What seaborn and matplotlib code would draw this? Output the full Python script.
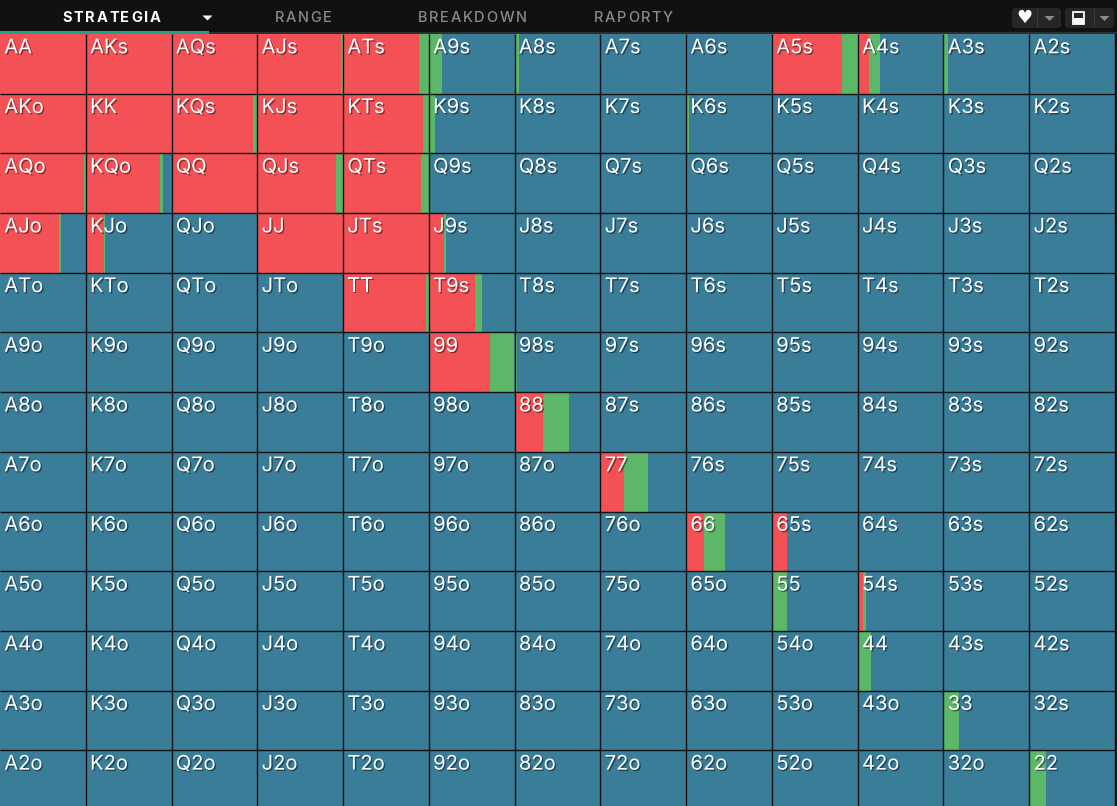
import matplotlib
matplotlib.use('Agg')
import matplotlib.pyplot as plt
import matplotlib.patheffects as pe
from matplotlib.colors import ListedColormap
from matplotlib.patches import Rectangle, FancyBboxPatch, Polygon
import numpy as np
import seaborn as sns

# rangi i czestotliwosci akcji (wiersze: pierwsza karta, kolumny: druga karta)
ranks = ['A', 'K', 'Q', 'J', 'T', '9', '8', '7', '6', '5', '4', '3', '2']
tabs = ['STRATEGIA', 'RANGE', 'BREAKDOWN', 'RAPORTY']

raise_freq = [
    [1.00, 1.00, 1.00, 0.975, 0.89, 0, 0, 0, 0, 0.82, 0.13, 0, 0],
    [1.00, 1.00, 0.955, 1.00, 0.93, 0, 0, 0, 0, 0, 0, 0, 0],
    [0.985, 0.87, 1.00, 0.92, 0.91, 0, 0, 0, 0, 0, 0, 0, 0],
    [0.69, 0.21, 0, 1.00, 1.00, 0.175, 0, 0, 0, 0, 0, 0, 0],
    [0, 0, 0, 0, 0.97, 0.54, 0, 0, 0, 0, 0, 0, 0],
    [0, 0, 0, 0, 0, 0.71, 0, 0, 0, 0, 0, 0, 0],
    [0, 0, 0, 0, 0, 0, 0.33, 0, 0, 0, 0, 0, 0],
    [0, 0, 0, 0, 0, 0, 0, 0.28, 0, 0, 0, 0, 0],
    [0, 0, 0, 0, 0, 0, 0, 0, 0.21, 0.175, 0, 0, 0],
    [0, 0, 0, 0, 0, 0, 0, 0, 0, 0, 0.067, 0, 0],
    [0, 0, 0, 0, 0, 0, 0, 0, 0, 0, 0, 0, 0],
    [0, 0, 0, 0, 0, 0, 0, 0, 0, 0, 0, 0, 0],
    [0, 0, 0, 0, 0, 0, 0, 0, 0, 0, 0, 0, 0],
]

call_freq = [
    [0, 0, 0, 0.025, 0.11, 0.15, 0.05, 0.01, 0, 0.18, 0.13, 0.05, 0],
    [0, 0, 0.04, 0, 0.07, 0.07, 0, 0, 0.03, 0, 0, 0, 0],
    [0.015, 0.03, 0, 0.08, 0.09, 0, 0, 0, 0, 0, 0, 0, 0],
    [0.025, 0.015, 0, 0, 0, 0.027, 0, 0, 0, 0, 0, 0, 0],
    [0, 0, 0, 0, 0.03, 0.078, 0, 0, 0, 0, 0, 0, 0],
    [0, 0, 0, 0, 0, 0.285, 0.027, 0, 0, 0, 0, 0, 0],
    [0, 0, 0, 0, 0, 0, 0.30, 0, 0, 0, 0, 0, 0],
    [0, 0, 0, 0, 0, 0, 0, 0.28, 0, 0, 0, 0, 0],
    [0, 0, 0, 0, 0, 0, 0, 0, 0.24, 0, 0, 0, 0],
    [0, 0, 0, 0, 0, 0, 0, 0, 0, 0.175, 0.03, 0, 0],
    [0, 0, 0, 0, 0, 0, 0, 0, 0, 0, 0.16, 0, 0],
    [0, 0, 0, 0, 0, 0, 0, 0, 0, 0, 0, 0.18, 0],
    [0, 0, 0, 0, 0, 0, 0, 0, 0, 0, 0, 0, 0.19],
]

# kolory
bg = '#111111'
fold_col = '#3a7d98'
raise_col = '#f45156'
call_col = '#5cb868'
line_col = '#111111'

sns.set_style('white')
plt.rcParams['font.family'] = ['Inter', 'DejaVu Sans']

W, H = 1117, 806
fig = plt.figure(figsize=(W / 100, H / 100), dpi=100, facecolor=bg)
ax = fig.add_axes([0, 1 - 810 / H, 1115 / W, 776 / H])

n = len(ranks)
# tlo - fold
sns.heatmap(np.zeros((n, n)), cmap=ListedColormap([fold_col]), cbar=False,
            xticklabels=False, yticklabels=False, ax=ax)

# raise i call jako poziome slupki w kazdej komorce
cols = np.arange(n)
for i in range(n):
    r = np.array(raise_freq[i])
    c = np.array(call_freq[i])
    ax.barh(i + 0.5, r, left=cols, height=1, color=raise_col, linewidth=0)
    ax.barh(i + 0.5, c, left=cols + r, height=1, color=call_col, linewidth=0)

ax.vlines(np.arange(1, n + 1), 0, n, color=line_col, lw=1.0, zorder=5)
ax.hlines(np.arange(1, n + 1), 0, n, color=line_col, lw=1.0, zorder=5)
ax.set_xlim(0, n)
ax.set_ylim(n, 0)
ax.axis('off')

shadow = [pe.withSimplePatchShadow(offset=(1, -1), shadow_rgbFace='black', alpha=0.45)]
for i in range(n):
    for j in range(n):
        if i == j:
            label = ranks[i] * 2
        elif i < j:
            label = ranks[i] + ranks[j] + 's'
        else:
            label = ranks[j] + ranks[i] + 'o'
        ax.text(j + 0.05, i + 0.24, label, color='white', fontsize=14.5,
                ha='left', va='center', zorder=6, path_effects=shadow)


# gorny pasek z zakladkami
def fx(x):
    return x / W


def fy(y):
    return 1 - y / H


fig.add_artist(Rectangle((fx(209), fy(34)), fx(1117) - fx(209), 2 / H,
                         transform=fig.transFigure, color='#2e2e2e', lw=0))
fig.add_artist(Rectangle((0, fy(34)), fx(209), 3 / H,
                         transform=fig.transFigure, color='#17a589', lw=0))

renderer = fig.canvas.get_renderer()


def spaced_text(xc, yc, s, spacing, **kw):
    # tekst z odstepami miedzy literami, wysrodkowany w xc (piksele)
    widths = []
    for ch in s:
        t = fig.text(0, 0, ch, **kw)
        widths.append(t.get_window_extent(renderer).width)
        t.remove()
    total = sum(widths) + spacing * (len(s) - 1)
    x = xc - total / 2
    for ch, w in zip(s, widths):
        fig.text(fx(x), fy(yc), ch, ha='left', va='center', **kw)
        x += w + spacing


tab_x = [111.5, 303.5, 472, 633.5]
for k, (t, x) in enumerate(zip(tabs, tab_x)):
    spaced_text(x, 18, t, 1.7, fontsize=10.5,
                fontweight='bold' if k == 0 else 'medium',
                color='white' if k == 0 else '#8a8a8a')


def caret(xc, yc, color):
    fig.add_artist(Polygon([(fx(xc - 5), fy(yc - 2.5)), (fx(xc + 5), fy(yc - 2.5)),
                            (fx(xc), fy(yc + 2.5))], closed=True,
                           transform=fig.transFigure, color=color, lw=0))


caret(207.5, 18, 'white')

# przyciski po prawej
for x0, x1, xd in [(1012, 1061, 1037), (1065, 1114, 1094)]:
    fig.add_artist(FancyBboxPatch((fx(x0), fy(28)), fx(x1) - fx(x0), 20 / H,
                                  boxstyle='round,pad=0,rounding_size=0.004',
                                  transform=fig.transFigure, color='#262626', lw=0))
    fig.add_artist(Rectangle((fx(xd), fy(27)), 1 / W, 18 / H,
                             transform=fig.transFigure, color='#3a3a3a', lw=0))
    caret((xd + x1) / 2 + 0.5, 18.5, '#8a8a8a')
fig.text(fx(1024), fy(18), '\u2665', ha='center', va='center', fontsize=13,
         color='white', family='DejaVu Sans')
fig.add_artist(Rectangle((fx(1073), fy(24)), 11 / W, 12 / H, transform=fig.transFigure,
                         facecolor='#262626', edgecolor='white', lw=1.3))
fig.add_artist(Rectangle((fx(1073), fy(24)), 11 / W, 6 / H, transform=fig.transFigure,
                         facecolor='white', lw=0))

fig.savefig('out.png', dpi=100, facecolor=bg)
